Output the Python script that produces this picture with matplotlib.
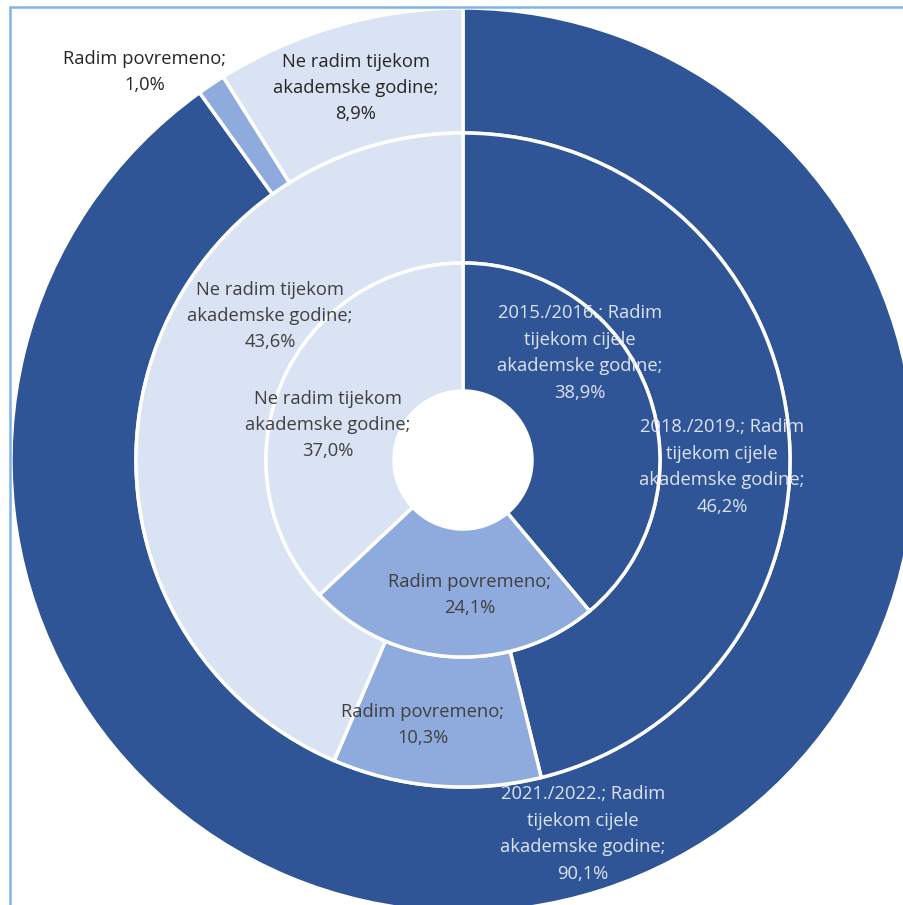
import matplotlib.pyplot as plt
from matplotlib.patches import Rectangle

plt.rcParams['font.family'] = ['Open Sans', 'DejaVu Sans']

categories = ['Radim tijekom cijele akademske godine', 'Radim povremeno',
              'Ne radim tijekom akademske godine']
years = ['2015./2016.', '2018./2019.', '2021./2022.']
vals_2015 = [38.9, 24.1, 37.0]
vals_2018 = [46.2, 10.3, 43.6]
vals_2021 = [90.1, 1.0, 8.9]

colors = ['#2F5597', '#8FAADC', '#DAE3F3']

W, H = 904, 905
fig = plt.figure(figsize=(W / 100, H / 100), dpi=100)
ax = fig.add_axes([0, 0, 1, 1])

cx, cy = 463, H - 460
rings = [(vals_2021, 452, 125), (vals_2018, 327, 130), (vals_2015, 197, 128)]
for vals, r, w in rings:
    ax.pie(vals, radius=r, center=(cx, cy), startangle=90, counterclock=False,
           colors=colors, frame=True,
           wedgeprops=dict(width=w, edgecolor='white', linewidth=2.5))
ax.set_xlim(0, W)
ax.set_ylim(0, H)
ax.set_aspect('equal')
ax.axis('off')


def fmt(v):
    return f'{v:.1f}'.replace('.', ',') + '%'


light = '#DCE4F2'
dark = '#404040'
# label positions in pixels (x, y from top)
labels = [
    (580, 353, f'{years[0]}; Radim\ntijekom cijele\nakademske godine;\n{fmt(vals_2015[0])}', light),
    (722, 467, f'{years[1]}; Radim\ntijekom cijele\nakademske godine;\n{fmt(vals_2018[0])}', light),
    (583, 834, f'{years[2]}; Radim\ntijekom cijele\nakademske godine;\n{fmt(vals_2021[0])}', light),
    (470, 595, f'Radim povremeno;\n{fmt(vals_2015[1])}', dark),
    (423, 725, f'Radim povremeno;\n{fmt(vals_2018[1])}', dark),
    (328, 425, f'Ne radim tijekom\nakademske godine;\n{fmt(vals_2015[2])}', dark),
    (270, 316, f'Ne radim tijekom\nakademske godine;\n{fmt(vals_2018[2])}', dark),
    (356, 88, f'Ne radim tijekom\nakademske godine;\n{fmt(vals_2021[2])}', '#262626'),
    (145, 72, f'Radim povremeno;\n{fmt(vals_2021[1])}', '#262626'),
]
for x, y, s, c in labels:
    ax.text(x, H - y, s, ha='center', va='center', fontsize=13.2,
            color=c, linespacing=1.6)

fig.patches.append(Rectangle((9.5 / W, -0.01), 1.02, (H - 7) / H + 0.01,
                             transform=fig.transFigure, fill=False,
                             edgecolor='#7FB2E5', linewidth=1.8, zorder=10))

fig.savefig('out.png', dpi=100, facecolor='white')
